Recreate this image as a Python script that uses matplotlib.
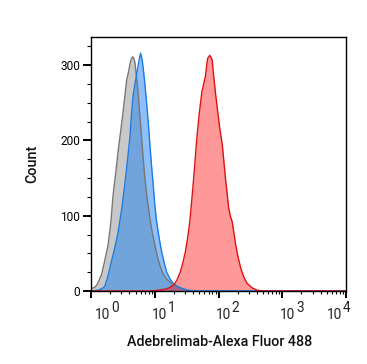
import matplotlib
matplotlib.use("Agg")
import matplotlib.pyplot as plt
import numpy as np
from matplotlib.ticker import FixedLocator, NullFormatter

plt.rcParams['font.family'] = ['Roboto', 'DejaVu Sans']

# ---- data (log10 of fluorescence, count) ----
gray_log = [0.00, 0.06, 0.10, 0.162, 0.21, 0.268, 0.31, 0.346, 0.385, 0.425, 0.465, 0.504,
            0.556, 0.59, 0.625, 0.651, 0.668, 0.688, 0.729, 0.755, 0.782, 0.815, 0.845,
            0.885, 0.924, 0.965, 1.003, 1.04, 1.08, 1.13, 1.186, 1.25, 1.32, 1.40, 1.48,
            1.58, 4.0]
gray_cnt = [3, 5, 9, 21, 38, 61, 90, 127, 155, 185, 212, 238,
            278, 292, 307, 311, 310, 304, 273, 245, 216, 180, 149,
            120, 96, 76, 61, 46, 34, 23, 16, 11, 7, 4, 2,
            0, 0]

blue_log = [0.00, 0.10, 0.17, 0.215, 0.26, 0.32, 0.375, 0.425, 0.48, 0.53, 0.57, 0.609,
            0.64, 0.661, 0.69, 0.714, 0.745, 0.777, 0.80, 0.819, 0.845, 0.871, 0.90,
            0.924, 0.95, 0.976, 1.00, 1.029, 1.07, 1.108, 1.15, 1.186, 1.24, 1.29, 1.36,
            1.44, 1.52, 1.60, 4.0]
blue_cnt = [0, 1, 3, 6, 18, 39, 58, 78, 108, 141, 172, 203,
            240, 260, 275, 287, 302, 316, 308, 296, 275, 251, 222,
            194, 166, 141, 115, 92, 70, 52, 37, 25, 16, 10, 6,
            3, 1, 0, 0]

red_log = [0.00, 0.93, 1.05, 1.14, 1.22, 1.30, 1.35, 1.40, 1.44, 1.48, 1.515, 1.55, 1.58,
           1.61, 1.635, 1.66, 1.70, 1.74, 1.77, 1.795, 1.815, 1.83, 1.863, 1.88, 1.90,
           1.925, 1.95, 1.985, 2.02, 2.06, 2.11, 2.16, 2.19, 2.215, 2.24, 2.27, 2.31,
           2.35, 2.40, 2.45, 2.53, 2.61, 2.70, 4.0]
red_cnt = [0, 0, 1, 2, 4, 8, 15, 25, 37, 52, 70, 92, 120,
           149, 176, 203, 237, 265, 276, 285, 300, 309, 313, 311, 307,
           285, 265, 240, 216, 194, 149, 110, 98, 92, 78, 61, 44,
           30, 18, 10, 4, 1, 0, 0]

decades = [0, 1, 2, 3, 4]
y_major = [0, 100, 200, 300]
x_label = "Adebrelimab-Alexa Fluor 488"
y_label = "Count"

W, H = 367, 364
fig = plt.figure(figsize=(W / 100, H / 100), dpi=100)
ax = fig.add_axes([91 / W, 73 / H, 255 / W, 253.7 / H])

series = [
    (gray_log, gray_cnt, '#c8c8c8', 1.0, '#767676'),
    (blue_log, blue_cnt, '#1e82f0', 0.5, '#1a7be6'),
    (red_log, red_cnt, '#ff0000', 0.4, '#dd1111'),
]
for lg, cnt, fc, a, ec in series:
    xv = 10 ** np.array(lg)
    ax.fill_between(xv, cnt, 0, color=fc, alpha=a, linewidth=0)
    ax.plot(xv, cnt, color=ec, lw=1.0)

ax.set_xscale('log')
ax.set_xlim(1, 1e4)
ax.set_ylim(0, 337)

for s in ax.spines.values():
    s.set_linewidth(1.0)

ax.xaxis.set_major_locator(FixedLocator([10 ** d for d in decades]))
minors = [m * 10 ** d for d in decades[:-1] for m in range(2, 10)]
ax.xaxis.set_minor_locator(FixedLocator(minors))
ax.xaxis.set_major_formatter(NullFormatter())
ax.xaxis.set_minor_formatter(NullFormatter())
ax.tick_params(axis='x', which='major', direction='out', length=5, width=1.4)
ax.tick_params(axis='x', which='minor', direction='out', length=2.5, width=0.8)

ax.set_yticks(y_major)
ax.set_yticks(np.arange(0, 337, 25), minor=True)
ax.set_yticklabels([str(v) for v in y_major])
ax.tick_params(axis='y', which='major', direction='out', length=5.8, width=1.4,
               labelsize=8.6, pad=2)
ax.tick_params(axis='y', which='minor', direction='out', length=2.8, width=0.8)

# custom x tick labels: "10" with same-size raised exponent
offs = {0: 4, 1: -3, 2: -3, 3: -2, 4: -19}
for d in decades:
    dx = offs[d]
    ax.annotate("10", xy=(10 ** d, 0), xycoords=('data', 'axes fraction'),
                xytext=(dx, -28), textcoords='offset pixels',
                ha='left', va='baseline', fontsize=9.8, color='#222222',
                annotation_clip=False)
    ax.annotate(str(d), xy=(10 ** d, 0), xycoords=('data', 'axes fraction'),
                xytext=(dx + 16, -20.5), textcoords='offset pixels',
                ha='left', va='baseline', fontsize=9.8, color='#222222',
                annotation_clip=False)

fig.text(219.5 / W, (H - 345.5) / H, x_label, ha='center', va='baseline',
         fontsize=10.3, fontweight='medium', color='#111111')
fig.text(32 / W, (H - 164) / H, y_label, ha='center', va='center', rotation=90,
         fontsize=10.3, fontweight='medium', color='#111111')

fig.savefig('out.png', dpi=100)
